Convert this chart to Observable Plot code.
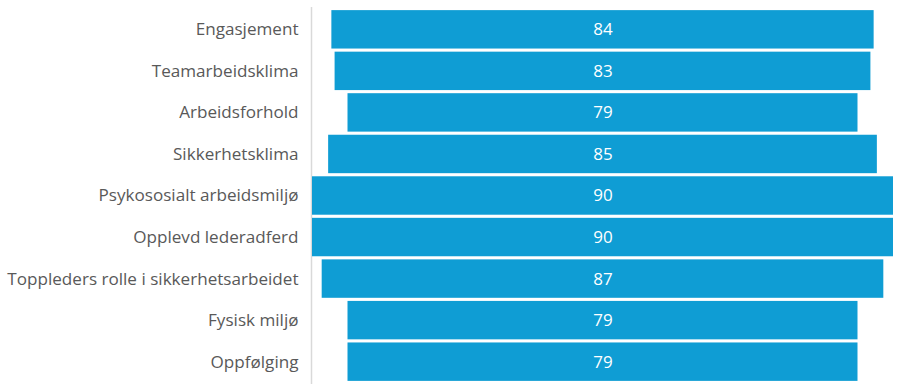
<!DOCTYPE html>
<html>
<head>
<meta charset="utf-8">
<script src="https://cdn.jsdelivr.net/npm/d3@7"></script>
<script src="https://cdn.jsdelivr.net/npm/@observablehq/plot@0.6"></script>
<style>
  html, body { margin: 0; padding: 0; background: #fff; }
  #chart svg { display: block; }
</style>
</head>
<body>
<div id="chart"></div>
<script>
const categories = [
  "Engasjement",
  "Teamarbeidsklima",
  "Arbeidsforhold",
  "Sikkerhetsklima",
  "Psykososialt arbeidsmiljø",
  "Opplevd lederadferd",
  "Toppleders rolle i sikkerhetsarbeidet",
  "Fysisk miljø",
  "Oppfølging"
];
const values = [84, 83, 79, 85, 90, 90, 87, 79, 79];

const data = categories.map((c, i) => ({category: c, value: values[i]}));

const chart = Plot.plot({
  width: 900,
  height: 385,
  marginLeft: 312,
  marginRight: 7,
  marginTop: 7,
  marginBottom: 1,
  style: {fontFamily: "'Open Sans', sans-serif", background: "#fff"},
  x: {domain: [-45, 45], axis: null},
  y: {domain: categories, padding: 0.075, round: false, label: null},
  marks: [
    Plot.ruleX([-45], {stroke: "#d9d9d9", strokeWidth: 1.5, dx: -1}),
    Plot.barX(data, {
      y: "category",
      x1: d => -d.value / 2,
      x2: d => d.value / 2,
      fill: "#0f9dd4"
    }),
    Plot.text(data, {
      y: "category",
      x: 0,
      text: d => String(d.value),
      fill: "white",
      fontSize: 17
    }),
    Plot.axisY({
      tickSize: 0,
      tickPadding: 14,
      fontSize: 17.1,
      color: "#595959",
      label: null
    })
  ]
});
chart.querySelectorAll("[aria-label='y-axis tick label'] text, [aria-label='y-axis tick label']").forEach(el => el.setAttribute("fill", "#595959"));
document.getElementById("chart").appendChild(chart);
</script>
</body>
</html>
